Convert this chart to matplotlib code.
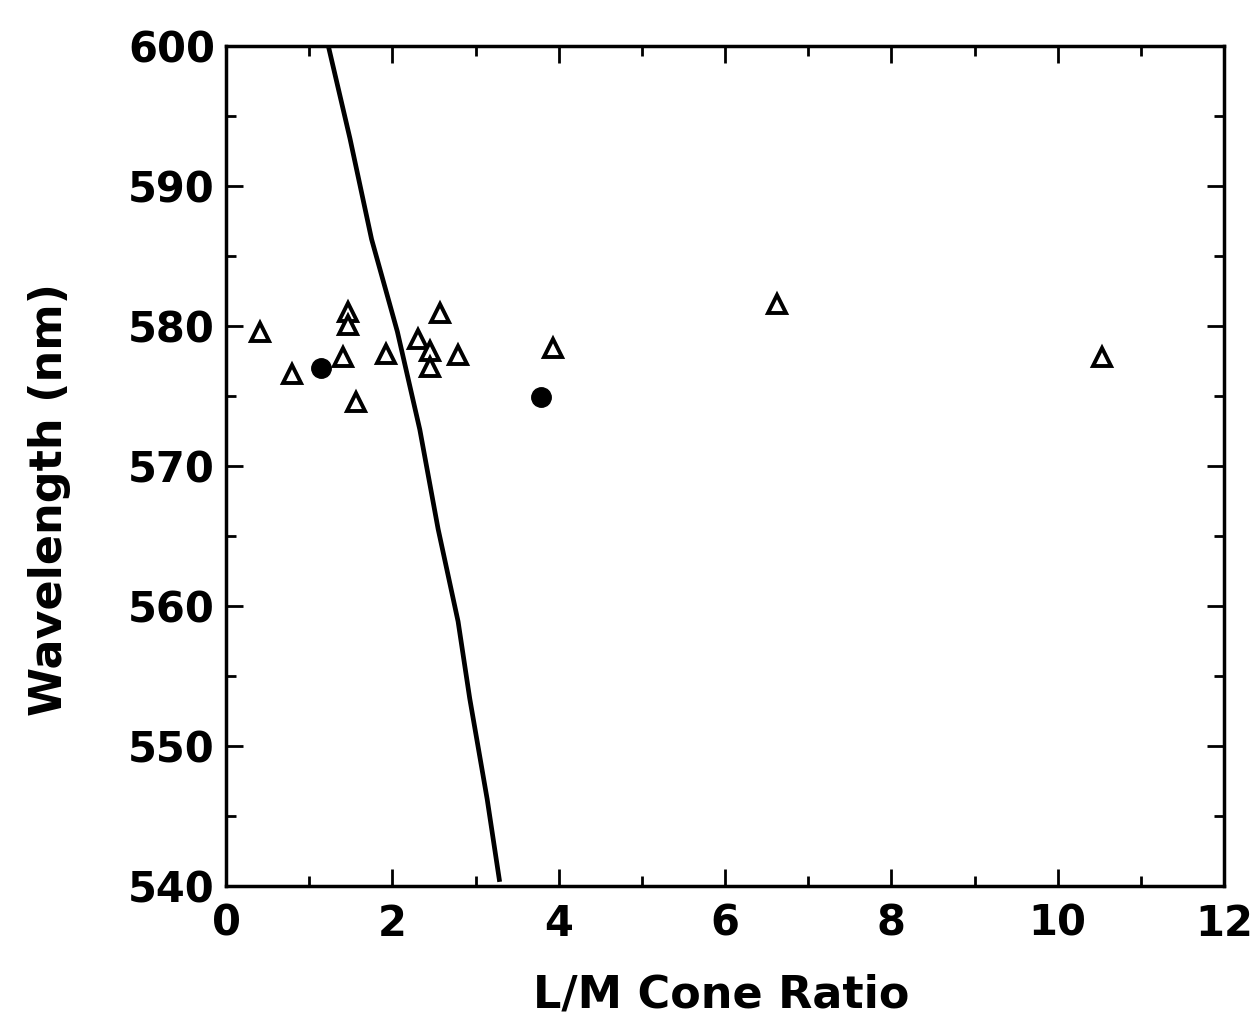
import matplotlib
matplotlib.use("Agg")
import matplotlib.pyplot as plt
from matplotlib.ticker import MultipleLocator

# open triangles (individual subjects)
tri_ratio = [0.41, 0.79, 1.41, 1.47, 1.47, 1.56, 1.92, 2.31, 2.45, 2.45, 2.57, 2.79, 3.93, 6.63, 10.53]
tri_wave = [579.6, 576.6, 577.8, 581.0, 580.1, 574.6, 578.0, 579.1, 578.2, 577.1, 580.9, 577.9, 578.4, 581.6, 577.8]

# filled circles
dot_ratio = [1.14, 3.79]
dot_wave = [577.0, 574.9]

# model curve
curve_ratio = [1.23, 1.49, 1.75, 2.06, 2.33, 2.55, 2.79, 2.93, 3.14, 3.29]
curve_wave = [600.0, 593.4, 586.2, 579.6, 572.6, 565.5, 558.9, 553.4, 546.2, 540.3]

plt.rcParams['font.family'] = ['DejaVu Sans']
plt.rcParams['font.weight'] = 'bold'

fig = plt.figure(figsize=(12.53, 10.14), dpi=100)
ax = fig.add_axes([0.1804, 0.1262, 0.7965, 0.8284])

ax.plot(curve_ratio, curve_wave, color='black', lw=3.4, solid_capstyle='butt')
ax.plot(tri_ratio, tri_wave, ls='none', marker='^', markersize=13,
        markerfacecolor='white', markeredgecolor='black', markeredgewidth=2.8)
ax.plot(dot_ratio, dot_wave, ls='none', marker='o', markersize=14,
        color='black')

ax.set_xlim(0, 12)
ax.set_ylim(540, 600)
ax.xaxis.set_major_locator(MultipleLocator(2))
ax.xaxis.set_minor_locator(MultipleLocator(1))
ax.yaxis.set_major_locator(MultipleLocator(10))
ax.yaxis.set_minor_locator(MultipleLocator(5))

ax.tick_params(which='both', direction='in', top=True, right=True, width=2)
ax.tick_params(which='major', length=12)
ax.tick_params(which='minor', length=7)
ax.tick_params(axis='x', labelsize=30, pad=12)
ax.tick_params(axis='y', labelsize=30, pad=8)
for s in ax.spines.values():
    s.set_linewidth(2.5)

ax.set_xlabel("L/M Cone Ratio", fontsize=32, fontweight='bold')
ax.set_ylabel("Wavelength (nm)", fontsize=32, fontweight='bold')
ax.xaxis.set_label_coords(0.496, -0.104)
ax.yaxis.set_label_coords(-0.155, 0.46)

fig.savefig("out.png", dpi=100)
